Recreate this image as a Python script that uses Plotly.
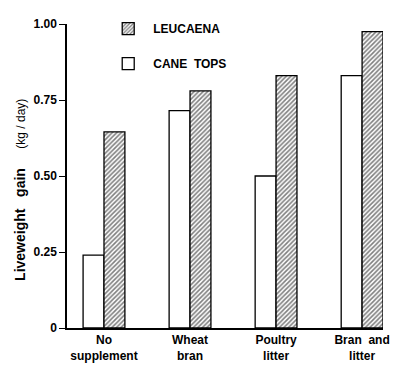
import plotly.graph_objects as go

categories = ["No<br>supplement", "Wheat<br>bran", "Poultry<br>litter", "Bran&nbsp;&nbsp;and<br>litter"]
cane_tops = [0.24, 0.715, 0.50, 0.83]
leucaena = [0.645, 0.78, 0.83, 0.975]
tick_vals = [0, 0.25, 0.5, 0.75, 1.0]
tick_text = ["0", "0.25", "0.50", "0.75", "1.00"]

FONT = "Liberation Sans, Arial, sans-serif"

fig = go.Figure()
fig.add_trace(go.Bar(
    x=list(range(len(categories))), y=cane_tops, name="<b>CANE&nbsp;&nbsp;TOPS</b>",
    marker=dict(color="white", line=dict(color="black", width=1.3)),
    legendgroup="c", legendrank=2,
))
fig.add_trace(go.Bar(
    x=list(range(len(categories))), y=leucaena, name="<b>LEUCAENA</b>",
    marker=dict(color="white", line=dict(color="black", width=1.3),
                pattern=dict(shape="/", fgcolor="black", bgcolor="white", size=3.2, solidity=0.5)),
    legendgroup="l", legendrank=1,
))

# page body has an 8px margin, so the figure is sized 8px smaller on each side
fig.update_layout(
    width=392, height=357,
    margin=dict(l=59, r=17, t=16, b=37, autoexpand=False),
    paper_bgcolor="white", plot_bgcolor="white",
    barmode="group", bargap=0.514, bargroupgap=0,
    font=dict(family=FONT, color="black", size=12),
    showlegend=True,
    legend=dict(xref="container", yref="container", x=0.2429, y=0.983,
                xanchor="left", yanchor="top",
                font=dict(size=12, family=FONT), tracegroupgap=16,
                bgcolor="rgba(0,0,0,0)", itemwidth=40),
    xaxis=dict(range=[-0.43, 3.243], tickvals=list(range(len(categories))),
               ticktext=["<b>" + c + "</b>" for c in categories],
               showline=True, linecolor="black", linewidth=1.5, ticks="", showgrid=False,
               zeroline=False, automargin=False, tickfont=dict(size=12, family=FONT)),
    yaxis=dict(range=[0, 1.0], tickvals=tick_vals, ticktext=["<b>" + t + "</b>" for t in tick_text],
               showline=True, linecolor="black", linewidth=1.5, ticks="outside", ticklen=6,
               tickcolor="black", tickwidth=1.3, showgrid=False, zeroline=False,
               automargin=False, tickfont=dict(size=12, family=FONT)),
    annotations=[dict(
        text="<b>Liveweight&nbsp;&nbsp;&nbsp;gain</b>&nbsp;&nbsp;&nbsp;&nbsp;&nbsp;<span style='font-size:12px'>(kg&nbsp;/&nbsp;day)</span>",
        textangle=-90, xref="paper", yref="paper", x=-0.149, y=0.454,
        xanchor="center", yanchor="middle", showarrow=False,
        font=dict(size=14, family=FONT, color="black"),
    )],
)

fig.write_html("out.html")
